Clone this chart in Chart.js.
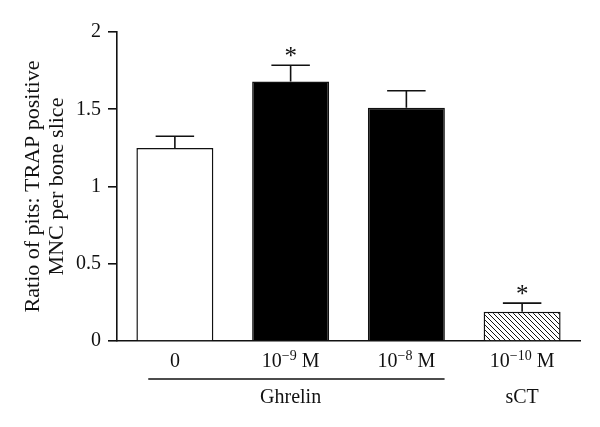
<!DOCTYPE html>
<html>
<head>
<meta charset="utf-8">
<script src="https://cdn.jsdelivr.net/npm/chart.js@4.4.1/dist/chart.umd.min.js"></script>
<style>
html,body{margin:0;padding:0;background:#fff;}
#wrap{width:600px;height:427px;position:relative;}
</style>
</head>
<body>
<div id="wrap"><canvas id="c" width="600" height="427"></canvas></div>
<script>
// category labels: base text, superscript, unit
const categories = ['0', '10^\u22129 M', '10^\u22128 M', '10^\u221210 M'];
const means = [1.25, 1.68, 1.51, 0.19];
const sem = [0.075, 0.105, 0.11, 0.055];
const significant = [false, true, false, true];
const yTicks = [0, 0.5, 1, 1.5, 2];
const groupNames = ['Ghrelin', 'sCT'];

const FONT = "'Liberation Serif', 'Times New Roman', serif";
const INK = '#111';

function hatch() {
  const s = 5;
  const c = document.createElement('canvas');
  c.width = s; c.height = s;
  const g = c.getContext('2d');
  g.fillStyle = '#fff';
  g.fillRect(0, 0, s, s);
  g.strokeStyle = '#111';
  g.lineWidth = 1;
  g.beginPath();
  g.moveTo(-1, -1); g.lineTo(s + 1, s + 1);
  g.moveTo(-1, s - 1); g.lineTo(1, s + 1);
  g.moveTo(s - 1, -1); g.lineTo(s + 1, 1);
  g.stroke();
  return document.getElementById('c').getContext('2d').createPattern(c, 'repeat');
}

const fills = ['#fff', '#000', '#000', hatch()];

function drawLabel(ctx, label, cx, baseY) {
  const m = label.match(/^([^\^]*)\^(\S+)(.*)$/);
  const big = '20px ' + FONT, small = '14px ' + FONT;
  ctx.textBaseline = 'alphabetic';
  ctx.textAlign = 'left';
  if (!m) {
    ctx.font = big;
    const w = ctx.measureText(label).width;
    ctx.fillText(label, cx - w / 2, baseY);
    return;
  }
  ctx.font = big; const w1 = ctx.measureText(m[1]).width;
  ctx.font = small; const w2 = ctx.measureText(m[2]).width;
  ctx.font = big; const w3 = ctx.measureText(m[3]).width;
  let x0 = cx - (w1 + w2 + w3) / 2;
  ctx.font = big; ctx.fillText(m[1], x0, baseY); x0 += w1;
  ctx.font = small; ctx.fillText(m[2], x0, baseY - 7); x0 += w2;
  ctx.font = big; ctx.fillText(m[3], x0, baseY);
}

const extras = {
  id: 'extras',
  afterDatasetsDraw(chart) {
    const ctx = chart.ctx;
    const meta = chart.getDatasetMeta(0);
    const y = chart.scales.y;
    const x = chart.scales.x;
    ctx.save();
    ctx.strokeStyle = INK;
    ctx.fillStyle = INK;
    ctx.lineWidth = 1.6;
    meta.data.forEach((bar, i) => {
      const top = y.getPixelForValue(means[i] + sem[i]);
      const base = y.getPixelForValue(means[i]);
      const half = bar.width / 4;
      ctx.beginPath();
      ctx.moveTo(bar.x, base);
      ctx.lineTo(bar.x, top);
      ctx.moveTo(bar.x - half, top);
      ctx.lineTo(bar.x + half, top);
      ctx.stroke();
      if (significant[i]) {
        ctx.font = '25px ' + FONT;
        ctx.textAlign = 'center';
        ctx.textBaseline = 'alphabetic';
        ctx.fillText('*', bar.x, top - 1);
      }
    });
    // category labels
    categories.forEach((lab, i) => drawLabel(ctx, lab, x.getPixelForValue(i), 367));
    // group line and labels
    const cw = x.getPixelForValue(1) - x.getPixelForValue(0);
    const lx0 = x.getPixelForValue(0) - 0.23 * cw;
    const lx1 = x.getPixelForValue(2) + 0.33 * cw;
    const ly = 379;
    ctx.beginPath();
    ctx.lineWidth = 1.6;
    ctx.moveTo(lx0, ly);
    ctx.lineTo(lx1, ly);
    ctx.stroke();
    ctx.font = '20px ' + FONT;
    ctx.textAlign = 'center';
    ctx.textBaseline = 'alphabetic';
    ctx.fillText(groupNames[0], x.getPixelForValue(1), 403);
    ctx.fillText(groupNames[1], x.getPixelForValue(3), 403);
    ctx.restore();
  }
};

new Chart(document.getElementById('c'), {
  type: 'bar',
  data: {
    labels: categories,
    datasets: [{
      data: means,
      backgroundColor: fills,
      borderColor: INK,
      borderWidth: 1.5,
      borderSkipped: 'bottom',
      categoryPercentage: 1,
      barPercentage: 0.665
    }]
  },
  options: {
    responsive: false,
    animation: false,
    devicePixelRatio: 1,
    layout: { padding: { top: 32, right: 20, left: 0, bottom: 0 } },
    plugins: { legend: { display: false }, tooltip: { enabled: false } },
    scales: {
      x: {
        grid: { display: false },
        border: { display: true, color: INK, width: 1.6 },
        ticks: { display: false },
        afterFit(s) { s.height = 86; }
      },
      y: {
        min: 0, max: 2,
        afterBuildTicks(s) { s.ticks = yTicks.map(v => ({ value: v })); },
        grid: { display: true, drawOnChartArea: false, drawTicks: true, tickLength: 9, color: INK, lineWidth: 1.6 },
        border: { display: true, color: INK, width: 1.6 },
        ticks: { color: INK, font: { family: FONT, size: 20 }, padding: 7,
                 callback: v => String(v) },
        title: { display: true, text: ['Ratio of pits: TRAP positive', 'MNC per bone slice'],
                 color: INK, font: { family: FONT, size: 22, lineHeight: 1.1 }, padding: { top: 21, bottom: 8 } },
        afterFit(s) { s.width = 117; }
      }
    }
  },
  plugins: [extras]
});
</script>
</body>
</html>
